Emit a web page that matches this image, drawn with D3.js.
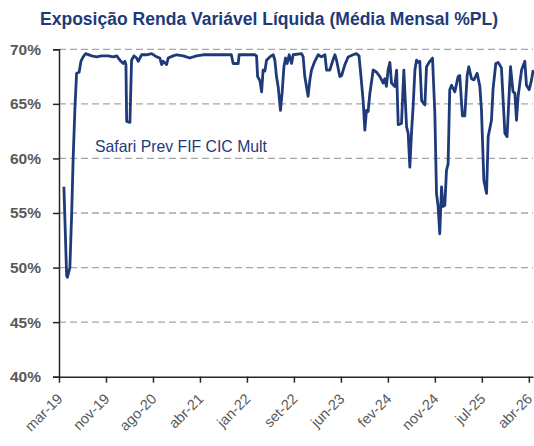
<!DOCTYPE html>
<html>
<head>
<meta charset="utf-8">
<script src="https://cdn.jsdelivr.net/npm/d3@7"></script>
<style>
  body { margin: 0; background: #fff; }
  svg { display: block; font-family: "Liberation Sans", Arial, sans-serif; }
</style>
</head>
<body>
<div id="chart"></div>
<script>
const titleText = "Exposição Renda Variável Líquida (Média Mensal %PL)";
const seriesName = "Safari Prev FIF CIC Mult";

// dates of the series
const dates = [
  "2019-04-01","2019-04-16","2019-04-20","2019-05-04","2019-05-14","2019-05-22","2019-06-01","2019-06-10",
  "2019-06-24","2019-07-04","2019-07-16","2019-07-30","2019-09-01","2019-09-28","2019-10-26","2019-12-01",
  "2019-12-29","2020-01-17","2020-02-04","2020-02-22","2020-03-02","2020-03-08","2020-03-12","2020-03-30",
  "2020-04-08","2020-04-21","2020-05-06","2020-05-15","2020-06-02","2020-06-30","2020-07-28","2020-08-24",
  "2020-09-11","2020-09-21","2020-09-29","2020-10-18","2020-10-27","2020-11-23","2020-12-12","2021-01-18",
  "2021-02-23","2021-04-01","2021-05-08","2021-10-02","2021-10-10","2021-10-20","2021-11-17","2021-11-22",
  "2022-02-17","2022-02-26","2022-03-04","2022-03-17","2022-03-26","2022-04-03","2022-04-13","2022-04-22",
  "2022-05-10","2022-05-29","2022-06-07","2022-06-16","2022-06-25","2022-07-08","2022-07-17","2022-07-27",
  "2022-08-05","2022-08-14","2022-08-25","2022-09-07","2022-09-16","2022-11-01","2022-11-10","2022-11-19",
  "2022-12-07","2022-12-17","2022-12-26","2023-01-13","2023-02-01","2023-02-19","2023-03-10","2023-03-19",
  "2023-04-06","2023-04-21","2023-05-04","2023-05-13","2023-05-31","2023-06-10","2023-06-28","2023-07-16",
  "2023-08-12","2023-08-31","2023-09-14","2023-09-28","2023-10-07","2023-10-16","2023-10-25","2023-11-03",
  "2023-11-13","2023-12-01","2023-12-20","2024-01-07","2024-01-25","2024-02-03","2024-02-12","2024-02-21",
  "2024-03-02","2024-03-11","2024-03-29","2024-04-08","2024-04-17","2024-05-05","2024-05-18","2024-06-02",
  "2024-06-11","2024-06-20","2024-06-30","2024-07-08","2024-07-18","2024-07-27","2024-08-05","2024-08-14",
  "2024-08-24","2024-09-11","2024-09-20","2024-10-08","2024-10-23","2024-11-05","2024-11-14","2024-11-23",
  "2024-12-02","2024-12-12","2024-12-20","2024-12-30","2025-01-08","2025-01-17","2025-01-26","2025-02-05",
  "2025-02-23","2025-03-13","2025-03-22","2025-04-06","2025-04-19","2025-05-02","2025-05-11","2025-05-26",
  "2025-06-08","2025-06-26","2025-07-11","2025-07-20","2025-08-02","2025-08-17","2025-08-26","2025-09-13",
  "2025-09-22","2025-10-07","2025-10-20","2025-11-07","2025-11-26","2025-12-08","2025-12-27","2026-01-10",
  "2026-01-20","2026-01-29","2026-02-07","2026-02-26","2026-03-16","2026-03-25","2026-04-09","2026-04-22",
  "2026-05-01"
];

// % of net assets
const values = [
  57.4,49.3,49.1,50.0,55.0,60.0,64.7,67.8,
  67.9,68.9,69.3,69.6,69.4,69.3,69.4,69.4,
  69.3,69.4,69.0,68.7,68.9,68.6,63.4,63.3,
  69.0,69.4,69.2,68.9,69.5,69.5,69.6,69.3,
  69.2,68.6,68.9,68.6,69.2,69.4,69.5,69.4,
  69.2,69.4,69.5,69.5,69.5,68.7,68.7,69.5,
  69.5,69.4,67.5,67.1,66.1,68.1,68.0,69.0,
  69.3,69.5,69.0,67.5,66.6,64.4,66.0,68.4,
  69.2,68.7,69.5,68.7,69.5,69.6,69.3,67.5,
  65.7,67.2,68.1,68.9,69.5,69.3,69.5,68.1,
  68.1,68.9,69.5,69.0,67.5,67.6,68.6,69.3,
  69.5,69.6,69.4,66.9,65.2,62.6,64.4,64.3,
  66.0,68.1,67.9,67.5,66.9,67.3,66.6,68.1,
  68.8,66.9,66.6,68.1,63.1,63.2,68.1,62.9,
  62.3,59.2,62.6,64.7,68.1,69.0,68.8,68.9,
  65.3,64.9,68.4,68.9,69.2,64.1,56.8,55.6,
  53.1,57.4,55.6,55.7,58.9,59.5,66.3,66.7,
  66.1,67.5,67.6,63.9,63.9,67.6,68.4,67.3,
  67.2,67.8,66.6,64.4,58.0,56.8,62.0,63.5,
  66.4,68.7,68.8,68.3,62.3,62.0,68.4,66.1,
  66.0,63.5,65.7,68.1,68.9,66.7,66.3,67.2,
  68.1
];

const tickDates = ["2019-03-05","2019-11-19","2020-08-04","2021-04-20","2022-01-04",
                   "2022-09-20","2023-06-06","2024-02-20","2024-11-05","2025-07-22","2026-04-07"];
const monthNames = ["jan","fev","mar","abr","mai","jun","jul","ago","set","out","nov","dez"];
const yTicks = [40, 45, 50, 55, 60, 65, 70];

const w = 534;
const h = 446;
const navy = "#1f3a7a";
const parse = d3.timeParse("%Y-%m-%d");

const svg = d3.select("#chart").append("svg")
              .attr("width", w)
              .attr("height", h);

const x = d3.scaleTime()
            .domain([parse("2019-03-05"), parse("2026-04-30")])
            .range([59, 533]);
const y = d3.scaleLinear()
            .domain([40, 70])
            .range([376.7, 49.3]);

// dashed gridlines
svg.selectAll("line.grid")
   .data(yTicks.filter(t => t > 40))
   .enter()
   .append("line")
   .attr("class", "grid")
   .attr("x1", 59)
   .attr("x2", 533)
   .attr("y1", d => y(d))
   .attr("y2", d => y(d))
   .style("stroke", "#a6a6a6")
   .style("stroke-width", 1.3)
   .style("stroke-dasharray", "7,4");

// y axis
const yAxis = svg.append("g")
                 .attr("transform", "translate(59,0)")
                 .call(d3.axisLeft(y).tickValues(yTicks).tickSize(6).tickPadding(12).tickFormat(d => d + "%"));
yAxis.selectAll("path, line").style("stroke", "#262626").style("stroke-width", 1.5);
yAxis.selectAll("text")
     .style("font-size", "15.5px")
     .style("font-weight", "bold")
     .style("fill", "#595959");

// x axis
const fmt = d => monthNames[d.getMonth()] + "-" + String(d.getFullYear()).slice(2);
const xAxis = svg.append("g")
                 .attr("transform", "translate(0,376.7)")
                 .call(d3.axisBottom(x).tickValues(tickDates.map(parse)).tickSize(6).tickSizeOuter(0).tickFormat(fmt));
xAxis.selectAll("path, line").style("stroke", "#262626").style("stroke-width", 1.5);
xAxis.selectAll("text")
     .attr("x", 0)
     .attr("y", 0)
     .attr("dy", 0)
     .attr("transform", "translate(4,23) rotate(-45)")
     .style("text-anchor", "end")
     .style("font-size", "14.5px")
     .style("fill", "#595959");

// line
const line = d3.line()
               .x((d, i) => x(parse(dates[i])))
               .y(d => y(d));

svg.append("path")
   .datum(values)
   .attr("d", line)
   .style("fill", "none")
   .style("stroke", navy)
   .style("stroke-width", 2.8)
   .style("stroke-linejoin", "round");

// title and series label
svg.append("text")
   .attr("x", 269)
   .attr("y", 25)
   .attr("text-anchor", "middle")
   .attr("textLength", 458)
   .attr("lengthAdjust", "spacingAndGlyphs")
   .style("font-size", "17.5px")
   .style("font-weight", "bold")
   .style("fill", navy)
   .text(titleText);

svg.append("text")
   .attr("x", 95)
   .attr("y", 151.5)
   .attr("textLength", 172)
   .attr("lengthAdjust", "spacingAndGlyphs")
   .style("font-size", "16.5px")
   .style("fill", navy)
   .text(seriesName);
</script>
</body>
</html>
